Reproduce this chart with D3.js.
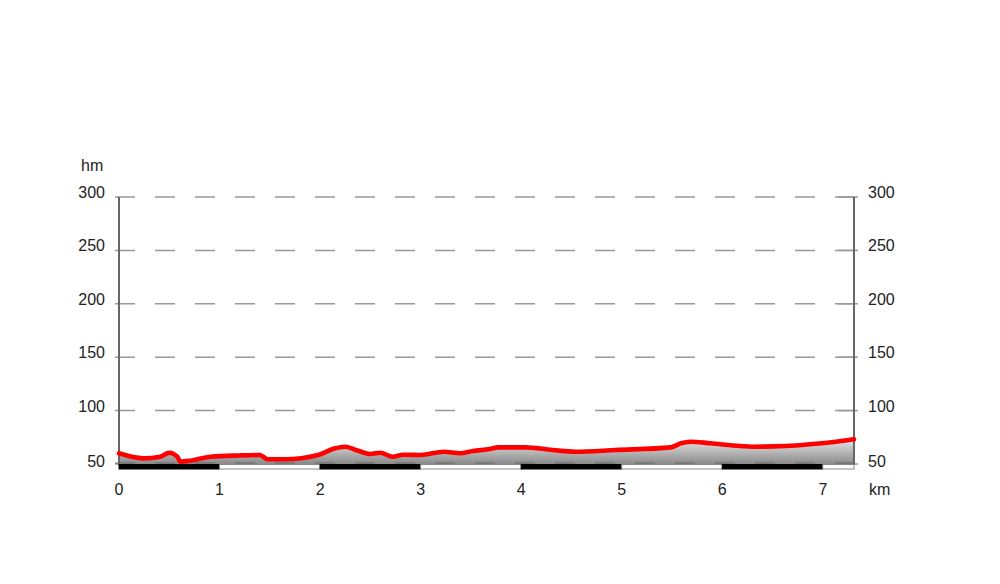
<!DOCTYPE html>
<html><head><meta charset="utf-8">
<script src="https://cdn.jsdelivr.net/npm/d3@7"></script>
<style>body{margin:0;background:#fff}svg{display:block}text{font-family:"Liberation Sans",Arial,sans-serif;font-size:16px;fill:#222}</style>
</head><body><div id="c"></div>
<script>
const distKm = [0.0,0.24,0.41,0.50,0.58,0.61,0.71,0.91,1.20,1.40,1.48,1.65,1.98,2.15,2.25,2.38,2.50,2.60,2.72,2.83,3.00,3.23,3.39,3.52,3.69,3.77,4.04,4.31,4.54,4.94,5.49,5.59,5.68,5.88,6.18,6.30,6.63,6.90,7.13,7.31];
const elevM  = [60.0,55.3,56.8,60.6,56.8,52.2,53.1,56.8,58.0,58.4,54.4,54.4,58.4,64.7,66.2,62.4,59.4,60.6,56.8,58.7,58.4,61.5,60.0,62.2,64.0,65.6,65.6,63.1,61.5,63.1,65.6,69.4,70.9,69.4,66.8,66.2,66.8,68.7,70.9,73.1];
const yTicks = [50,100,150,200,250,300];
const xTicks = [0,1,2,3,4,5,6,7];
const maxKm = 7.31;

const W=1000,H=584;
const svg=d3.select("#c").append("svg").attr("width",W).attr("height",H);
const x=d3.scaleLinear().domain([0,maxKm]).range([119,854]);
const y=d3.scaleLinear().domain([50,300]).range([464,197]);
const data=distKm.map((d,i)=>({d,e:elevM[i]}));

const defs=svg.append("defs");
const g=defs.append("linearGradient").attr("id","gr").attr("gradientUnits","userSpaceOnUse")
  .attr("x1",0).attr("x2",0).attr("y1",y(75)).attr("y2",y(50));
g.append("stop").attr("offset","0%").attr("stop-color","#ececec");
g.append("stop").attr("offset","100%").attr("stop-color","#8a8a8a");

// grid
svg.append("g").selectAll("line").data(yTicks).join("line")
  .attr("x1",115).attr("x2",858).attr("y1",d=>y(d)).attr("y2",d=>y(d))
  .attr("stroke","#999").attr("stroke-width",1.5).attr("stroke-dasharray","20,20");
// side ticks
svg.append("g").selectAll("line").data(yTicks).join("line")
  .attr("x1",838).attr("x2",858).attr("y1",d=>y(d)).attr("y2",d=>y(d))
  .attr("stroke","#999").attr("stroke-width",1.5);

// area
svg.append("path").datum(data)
  .attr("d",d3.area().x(d=>x(d.d)).y0(y(50)).y1(d=>y(d.e)).curve(d3.curveMonotoneX))
  .attr("fill","url(#gr)");
// dashed 50 line over area
svg.append("line").attr("x1",115).attr("x2",858).attr("y1",y(50)-1).attr("y2",y(50)-1)
  .attr("stroke","#666").attr("stroke-width",1.2).attr("stroke-dasharray","20,20");

// axes
[119,854].forEach(px=>svg.append("line").attr("x1",px).attr("x2",px).attr("y1",y(300)).attr("y2",y(50)+1)
  .attr("stroke","#666").attr("stroke-width",2));

// km bar
const segs=d3.range(0,Math.ceil(maxKm)).map(k=>({a:k,b:Math.min(k+1,maxKm)}));
svg.append("g").selectAll("rect").data(segs).join("rect")
  .attr("x",d=>x(d.a)).attr("width",d=>x(d.b)-x(d.a)).attr("y",464.5).attr("height",4.5)
  .attr("fill",d=>d.a%2===0?"#000":"#fff").attr("stroke",d=>d.a%2===0?"#000":"#888").attr("stroke-width",1);

// line
svg.append("path").datum(data)
  .attr("d",d3.line().x(d=>x(d.d)).y(d=>y(d.e)).curve(d3.curveMonotoneX))
  .attr("fill","none").attr("stroke","#ff0000").attr("stroke-width",4.6).attr("stroke-linejoin","round").attr("stroke-linecap","round");

// labels
svg.append("g").selectAll("text").data(yTicks).join("text")
  .attr("x",105).attr("y",d=>y(d)+ (d===50?3:1)).attr("text-anchor","end").text(d=>d);
svg.append("g").selectAll("text").data(yTicks).join("text")
  .attr("x",868).attr("y",d=>y(d)+ (d===50?3:1)).attr("text-anchor","start").text(d=>d);
svg.append("text").attr("x",81).attr("y",171).text("hm");
svg.append("g").selectAll("text").data(xTicks).join("text")
  .attr("x",d=>x(d)).attr("y",495).attr("text-anchor","middle").text(d=>d);
svg.append("text").attr("x",869).attr("y",495).text("km");
</script></body></html>
